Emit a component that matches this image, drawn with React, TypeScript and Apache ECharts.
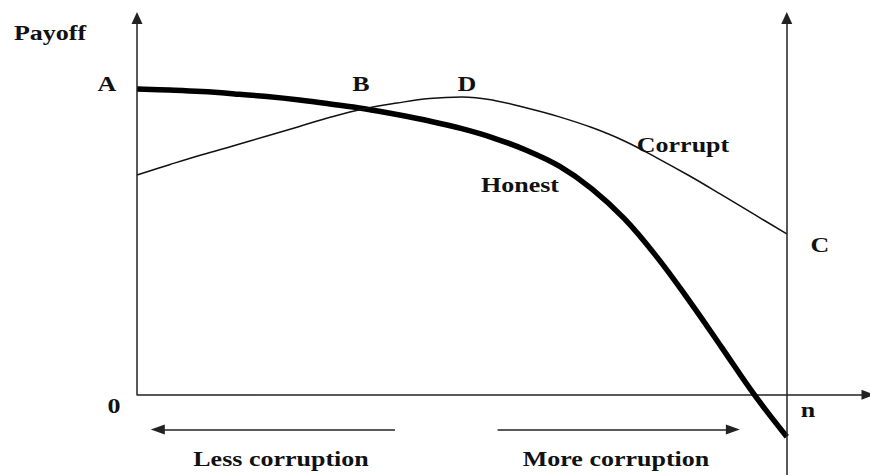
import React, { useEffect, useRef } from "react";
import * as echarts from "echarts";

// Horizontal axis: degree of corruption (0 .. n), vertical axis: payoff
const xs = [0, 0.5, 1, 1.5, 2, 2.5, 3, 3.5, 4, 4.5, 5, 5.5, 6, 6.5, 7, 7.5, 8, 8.5, 9, 9.5, 10];
const honestY = [7.99, 7.96, 7.92, 7.86, 7.79, 7.7, 7.59, 7.47, 7.32, 7.15, 6.95, 6.7, 6.38, 5.97, 5.38, 4.6, 3.6, 2.45, 1.23, 0.0, -1.1];
const corruptY = [5.74, 6.01, 6.27, 6.51, 6.76, 7.01, 7.26, 7.47, 7.62, 7.74, 7.78, 7.69, 7.49, 7.26, 6.98, 6.63, 6.19, 5.72, 5.22, 4.71, 4.2];

const nValue = 10;
const xMax = 11.25;
const yMin = -2.1;
const yMax = 10;

// annotation arrows (data coordinates)
const arrowY = -0.91;
const lessArrow = [3.97, 0.32];
const moreArrow = [5.55, 9.17];

const FONT = "'Liberation Serif', 'Times New Roman', serif";
const TXT = "#111";

type Lab = { t: string; x: number; y: number };
const labels: Lab[] = [
  { t: "Payoff", x: 50, y: 33 },
  { t: "A", x: 107, y: 84 },
  { t: "B", x: 361, y: 84 },
  { t: "D", x: 467, y: 84 },
  { t: "Corrupt", x: 683, y: 145 },
  { t: "Honest", x: 520, y: 185 },
  { t: "C", x: 820, y: 245 },
  { t: "0", x: 114, y: 406 },
  { t: "n", x: 808, y: 410 },
  { t: "Less corruption", x: 281, y: 459 },
  { t: "More corruption", x: 616, y: 459 },
];

export default function App() {
  const ref = useRef<HTMLDivElement>(null);
  useEffect(() => {
    document.body.style.margin = "0";
    if (!ref.current) return;
    const chart = echarts.init(ref.current, undefined, { renderer: "svg" });
    const axisColor = "#222";
    chart.setOption({
      animation: false,
      backgroundColor: "#fff",
      grid: { left: 137, right: 2, top: 12, bottom: 0, containLabel: false },
      xAxis: {
        type: "value",
        min: 0,
        max: xMax,
        axisLine: {
          show: true,
          onZero: true,
          symbol: ["none", "triangle"],
          symbolSize: [10, 13],
          lineStyle: { color: axisColor, width: 1.5 },
        },
        axisTick: { show: false },
        axisLabel: { show: false },
        splitLine: { show: false },
      },
      yAxis: {
        type: "value",
        min: yMin,
        max: yMax,
        axisLine: { show: false },
        axisTick: { show: false },
        axisLabel: { show: false },
        splitLine: { show: false },
      },
      series: [
        {
          type: "line",
          name: "Honest",
          data: xs.map((x, i) => [x, honestY[i]]),
          smooth: 0.4,
          symbol: "none",
          clip: false,
          lineStyle: { color: "#000", width: 5.5 },
        },
        {
          type: "line",
          name: "Corrupt",
          data: xs.map((x, i) => [x, corruptY[i]]),
          smooth: 0.4,
          symbol: "none",
          clip: false,
          lineStyle: { color: "#111", width: 1.5 },
          markLine: {
            silent: true,
            symbol: ["none", "triangle"],
            symbolSize: [11, 12],
            label: { show: false },
            lineStyle: { color: axisColor, width: 1.5, type: "solid" },
            data: [
              [{ coord: [0, 0] }, { coord: [0, yMax - 0.16] }],
              [{ coord: [nValue, yMin] }, { coord: [nValue, yMax - 0.16] }],
              [{ coord: [lessArrow[0], arrowY] }, { coord: [lessArrow[1], arrowY], symbolSize: [10, 14] }],
              [{ coord: [moreArrow[0], arrowY] }, { coord: [moreArrow[1], arrowY], symbolSize: [10, 14] }],
            ],
          },
        },
      ],
      graphic: labels.map((l) => ({
        type: "text",
        x: l.x,
        y: l.y,
        scaleX: 1.3,
        silent: true,
        style: {
          text: l.t,
          fontFamily: FONT,
          fontWeight: "bold",
          fontSize: 20,
          fill: TXT,
          align: "center",
          verticalAlign: "middle",
          textAlign: "center",
          textVerticalAlign: "middle",
        },
      })),
    });
    return () => chart.dispose();
  }, []);
  return <div ref={ref} style={{ width: 870, height: 475 }} />;
}
